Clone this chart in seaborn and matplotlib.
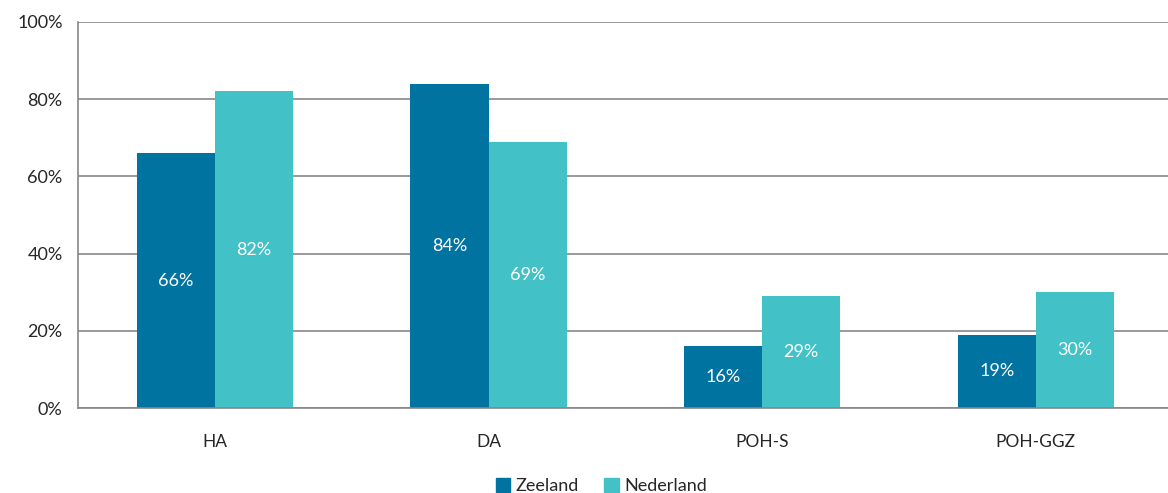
import pandas as pd
import matplotlib.pyplot as plt
import seaborn as sns
from matplotlib.patches import Patch

# data
categories = ["HA", "DA", "POH-S", "POH-GGZ"]
zeeland = [66, 84, 16, 19]
nederland = [82, 69, 29, 30]
regions = ["Zeeland", "Nederland"]
colors = ["#0073A0", "#42C1C7"]

df = pd.DataFrame({
    "categorie": categories * 2,
    "regio": [regions[0]] * 4 + [regions[1]] * 4,
    "waarde": zeeland + nederland,
})

sns.set_style("white")
plt.rcParams["font.family"] = ["Lato", "DejaVu Sans"]

fig = plt.figure(figsize=(11.68, 4.93), dpi=100)
ax = fig.add_axes([0.0668, 0.1724, 0.9372, 0.783])

sns.barplot(
    data=df, x="categorie", y="waarde", hue="regio",
    palette=colors, width=0.572, gap=0, saturation=1,
    linewidth=0, legend=False, ax=ax,
)

for c in ax.containers:
    ax.bar_label(c, labels=[f"{v:.0f}%" for v in c.datavalues],
                 label_type="center", color="white", fontsize=13)

grid_c = "#878787"
ax.set_ylim(0, 100)
ax.set_yticks(range(0, 101, 20))
ax.set_yticklabels([f"{t}%" for t in range(0, 101, 20)], fontsize=13)
ax.yaxis.grid(True, color=grid_c, linewidth=1.2)
ax.set_axisbelow(True)
ax.set_xlim(-0.5, 3.5)

# x tick marks at category boundaries, labels at centres
ax.set_xticks([0.5, 1.5, 2.5], minor=False)
ax.set_xticklabels([])
ax.set_xticks(range(4), minor=True)
ax.set_xticklabels(categories, minor=True, fontsize=12.5)
ax.tick_params(axis="x", which="major", length=6, width=1.2, color=grid_c, direction="out")
ax.tick_params(axis="x", which="minor", length=0, pad=19)
ax.tick_params(axis="y", length=7, width=1.2, color=grid_c, direction="out", pad=4)

for s in ["top", "right"]:
    ax.spines[s].set_visible(False)
for s in ["left", "bottom"]:
    ax.spines[s].set_color(grid_c)
    ax.spines[s].set_linewidth(1.2)

ax.set_xlabel("")
ax.set_ylabel("")

handles = [Patch(color=colors[i], label=regions[i]) for i in range(2)]
fig.legend(handles=handles, loc="lower center", bbox_to_anchor=(0.515, -0.01),
           ncol=2, frameon=False, fontsize=13, handlelength=0.8, handleheight=0.8,
           handletextpad=0.3, columnspacing=1.4, borderaxespad=0, borderpad=0.2)

fig.savefig("out.png", dpi=100)
